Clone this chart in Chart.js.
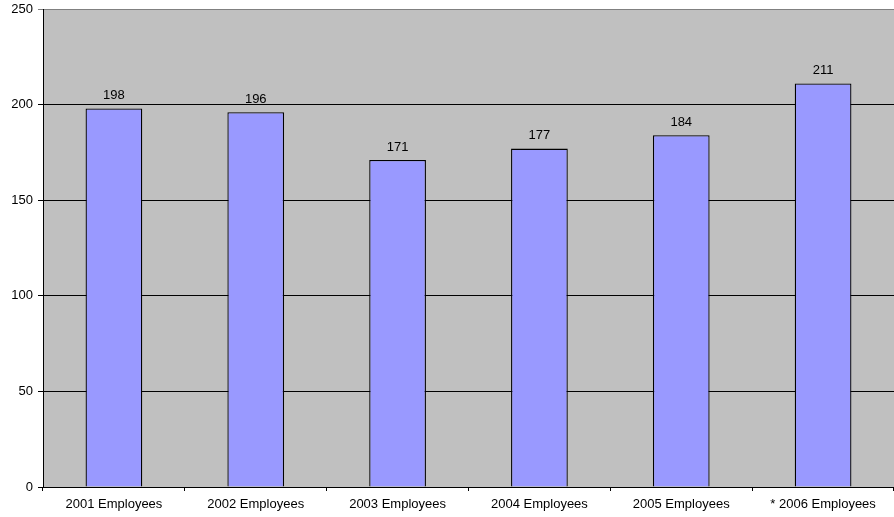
<!DOCTYPE html>
<html>
<head>
<meta charset="utf-8">
<script src="https://cdn.jsdelivr.net/npm/chart.js@4/dist/chart.umd.min.js"></script>
<style>
  html, body { margin: 0; padding: 0; background: #fff; }
  #wrap { width: 894px; height: 517px; }
</style>
</head>
<body>
<div id="wrap"><canvas id="empChart" width="894" height="517"></canvas></div>
<script>
// ─────────────────────────────
// DATA
// ─────────────────────────────
const years = ["2001 Employees", "2002 Employees", "2003 Employees",
               "2004 Employees", "2005 Employees", "* 2006 Employees"];
const headcount = [198, 196, 171, 177, 184, 211];
const yTicks = [0, 50, 100, 150, 200, 250];

const FONT = { family: "'Liberation Sans', Arial, sans-serif", size: 13 };

// grey plot area behind the bars
const plotBg = {
    id: "plotBg",
    beforeDraw(chart) {
        const { ctx, chartArea: a } = chart;
        ctx.save();
        ctx.fillStyle = "#C0C0C0";
        ctx.fillRect(a.left, a.top, a.right - a.left, a.bottom - a.top);
        ctx.restore();
    }
};

// value printed above each bar
const valueLabels = {
    id: "valueLabels",
    afterDatasetsDraw(chart) {
        const ctx = chart.ctx;
        const meta = chart.getDatasetMeta(0);
        ctx.save();
        ctx.font = FONT.size + "px " + FONT.family;
        ctx.fillStyle = "#000";
        ctx.textAlign = "center";
        ctx.textBaseline = "middle";
        meta.data.forEach((bar, i) => {
            ctx.fillText(String(headcount[i]), bar.x, bar.y - 13);
        });
        ctx.restore();
    }
};

// ─────────────────────────────
// CHART
// ─────────────────────────────
new Chart(document.getElementById("empChart"), {
    type: "bar",
    data: {
        labels: years,
        datasets: [{
            data: headcount,
            backgroundColor: "#9999FF",
            borderColor: "#000",
            borderWidth: 1.3,
            categoryPercentage: 1,
            barPercentage: 0.4
        }]
    },
    options: {
        responsive: false,
        animation: false,
        layout: { padding: { top: 9, right: 0, bottom: 0, left: 0 } },
        plugins: {
            legend: { display: false },
            tooltip: { enabled: false }
        },
        scales: {
            x: {
                offset: true,
                grid: {
                    offset: true,
                    drawOnChartArea: false,
                    drawTicks: true,
                    tickLength: 4,
                    color: "#000"
                },
                border: { display: true, color: "#000" },
                ticks: { color: "#000", font: FONT, padding: 6, maxRotation: 0, autoSkip: false },
                afterFit(scale) {
                    scale.height = 30;
                    scale.paddingLeft = 0;
                    scale.paddingRight = 0;
                }
            },
            y: {
                min: 0,
                max: 250,
                afterBuildTicks(scale) { scale.ticks = yTicks.map(v => ({ value: v })); },
                grid: {
                    color: ctx => ctx.tick && ctx.tick.value === 250 ? "#808080" : "#000",
                    drawTicks: true,
                    tickLength: 5
                },
                border: { display: true, color: "#000" },
                ticks: { color: "#000", font: FONT, padding: 5 },
                afterFit(scale) {
                    scale.width = 43;
                    scale.paddingTop = 0;
                    scale.paddingBottom = 0;
                }
            }
        }
    },
    plugins: [plotBg, valueLabels]
});
</script>
</body>
</html>
